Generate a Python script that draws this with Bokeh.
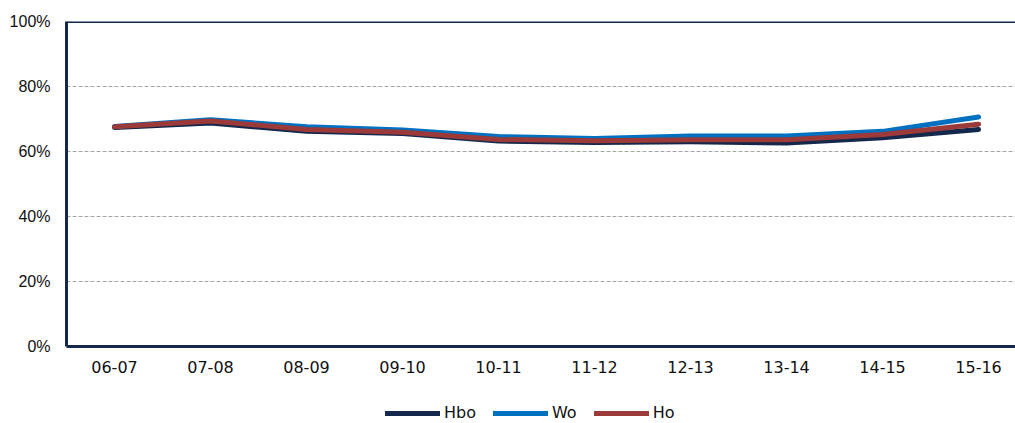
from bokeh.plotting import figure
from bokeh.layouts import column
from bokeh.models import (Range1d, FixedTicker, Span, Legend, LegendItem)
from bokeh.embed import file_html
from bokeh.resources import INLINE

# ---- data ----
seasons = ["06-07", "07-08", "08-09", "09-10", "10-11",
           "11-12", "12-13", "13-14", "14-15", "15-16"]
series_names = ["Hbo", "Wo", "Ho"]
hbo = [67.4, 68.8, 66.2, 65.5, 63.2, 62.8, 63.0, 62.6, 64.2, 66.8]
wo  = [67.7, 69.8, 67.6, 66.6, 64.6, 64.0, 64.8, 64.8, 66.2, 70.6]
ho  = [67.6, 69.4, 66.8, 65.9, 63.7, 63.3, 63.6, 63.6, 65.2, 68.4]
y_ticks = [0, 20, 40, 60, 80, 100]
y_tick_labels = ["0%", "20%", "40%", "60%", "80%", "100%"]

NAVY = "#14284b"
BLUE = "#0070c0"
RED = "#9b3a38"
colors = [NAVY, BLUE, RED]
XFONT = "DejaVu Sans"
YFONT = "Liberation Sans"

x = [i + 0.5 for i in range(len(seasons))]
series = [hbo, wo, ho]

# ---- main chart ----
p = figure(width=1015, height=395, output_backend="svg", toolbar_location=None,
           x_range=Range1d(0, 9.885), y_range=Range1d(0, 100),
           min_border_left=66, min_border_right=0, min_border_top=21,
           min_border_bottom=49)
p.outline_line_color = None
p.background_fill_color = "white"
p.border_fill_color = "white"

p.xaxis.ticker = FixedTicker(ticks=x)
p.xaxis.major_label_overrides = {xi: s for xi, s in zip(x, seasons)}
p.yaxis.ticker = FixedTicker(ticks=y_ticks)
p.yaxis.major_label_overrides = {t: l for t, l in zip(y_ticks, y_tick_labels)}
for ax in (p.xaxis[0], p.yaxis[0]):
    ax.axis_line_color = NAVY
    ax.axis_line_width = 3
    ax.major_tick_line_color = None
    ax.minor_tick_line_color = None
    ax.major_tick_out = 0
    ax.major_tick_in = 0
    ax.major_label_text_font_size = "16px"
    ax.major_label_text_color = "#111111"
p.xaxis.major_label_text_font = XFONT
p.yaxis.major_label_text_font = YFONT
p.xaxis.major_label_standoff = 14
p.yaxis.major_label_standoff = 16

p.xgrid.grid_line_color = None
p.ygrid.ticker = FixedTicker(ticks=[20, 40, 60, 80])
p.ygrid.grid_line_color = "#a6a6a6"
p.ygrid.grid_line_dash = "4 2"
p.ygrid.grid_line_width = 1

p.add_layout(Span(location=100, dimension="width", line_color=NAVY, line_width=3))

for vals, c in zip(series, colors):
    p.line(x, vals, line_color=c, line_width=5, line_cap="round", line_join="round")

# ---- legend strip (its frame is aligned with the chart's frame) ----
q = figure(width=1015, height=28, output_backend="svg", toolbar_location=None,
           x_range=Range1d(0, 1), y_range=Range1d(0, 1),
           x_axis_location=None, y_axis_location=None,
           min_border_left=66, min_border_right=0, min_border_top=0,
           min_border_bottom=0)
q.outline_line_color = None
q.xgrid.visible = False
q.ygrid.visible = False
items = []
for name, vals, c in zip(series_names, series, colors):
    # same series, out of this strip's view: only their legend swatches show
    r = q.line(x, vals, line_color=c, line_width=5, line_cap="round")
    items.append(LegendItem(label=name, renderers=[r]))
legend = Legend(items=items, orientation="horizontal", location=(319, 1),
                glyph_width=55, glyph_height=18, label_height=18,
                label_standoff=4, spacing=17, padding=0, margin=0,
                border_line_color=None, background_fill_alpha=0,
                label_text_font=XFONT, label_text_font_size="16px",
                label_text_color="#111111")
q.add_layout(legend, "center")

layout = column(p, q, spacing=0)
open("out.html", "w").write(file_html(layout, INLINE))
